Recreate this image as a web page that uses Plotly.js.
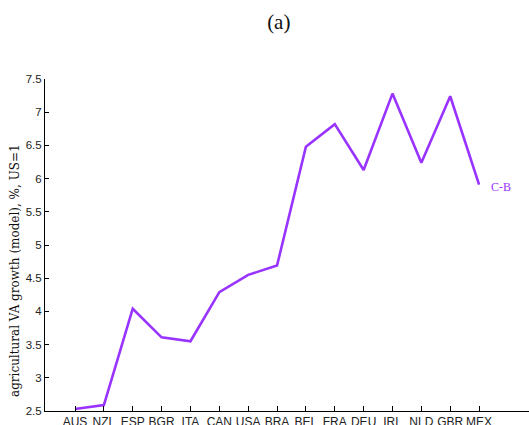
<!DOCTYPE html>
<html>
<head>
<meta charset="utf-8">
<script src="https://cdn.plot.ly/plotly-3.0.1.min.js"></script>
<style>html,body{margin:0;padding:0;background:#fff;}#chart{width:529px;height:425px;}</style>
</head>
<body>
<div id="chart"></div>
<script>
const countries = ["AUS","NZL","ESP","BGR","ITA","CAN","USA","BRA","BEL","FRA","DEU","IRL","NLD","GBR","MEX"];
const growthCB = [2.53, 2.59, 4.04, 3.61, 3.55, 4.29, 4.55, 4.69, 6.48, 6.82, 6.13, 7.28, 6.24, 7.24, 5.91];
const yTicks = [2.5, 3, 3.5, 4, 4.5, 5, 5.5, 6, 6.5, 7, 7.5];
const yTickText = ["2.5","3","3.5","4","4.5","5","5.5","6","6.5","7","7.5"];
const seriesName = "C-B";
const yTitle = "agricultural VA growth (model), %, US=1";
const lineColor = "#9933ff";

const idx = countries.map((c, i) => i);

Plotly.newPlot("chart", [{
  x: idx,
  y: growthCB,
  type: "scatter",
  mode: "lines",
  line: {color: lineColor, width: 2.6},
  hoverinfo: "skip",
  showlegend: false
}], {
  width: 529, height: 425,
  margin: {l: 45, r: 0, t: 79, b: 14, pad: 0},
  paper_bgcolor: "#fff", plot_bgcolor: "#fff",
  title: {text: "(a)", font: {family: "Liberation Serif, serif", size: 21, color: "#111"},
          x: 0.527, xanchor: "center", y: 1 - 22/425, yanchor: "middle", yref: "container"},
  xaxis: {
    range: [-1.04, 15.73], tickmode: "array", tickvals: idx, ticktext: countries,
    showgrid: false, zeroline: false, showline: true, linecolor: "#000", linewidth: 1,
    ticks: "inside", ticklen: 5, tickcolor: "#000", tickwidth: 1,
    tickfont: {family: "Liberation Sans, Arial, sans-serif", size: 12, color: "#222"}
  },
  yaxis: {
    range: [2.5, 7.5], tickmode: "array", tickvals: yTicks, ticktext: yTickText,
    showgrid: false, zeroline: false, showline: true, linecolor: "#000", linewidth: 1,
    ticks: "inside", ticklen: 4, tickcolor: "#000", tickwidth: 1,
    tickfont: {family: "Liberation Sans, Arial, sans-serif", size: 11.5, color: "#222"}
  },
  annotations: [{
    x: 14.35, y: 5.88, xref: "x", yref: "y", text: seriesName, showarrow: false,
    xanchor: "left", yanchor: "middle",
    font: {family: "Liberation Serif, serif", size: 12, color: lineColor}
  }, {
    x: (15 - 45) / 484, y: (411 - 271) / 332, xref: "paper", yref: "paper",
    text: yTitle, showarrow: false, textangle: -90,
    xanchor: "center", yanchor: "middle",
    font: {family: "DejaVu Serif, serif", size: 12, color: "#111"}
  }]
}, {staticPlot: true, displayModeBar: false});
</script>
</body>
</html>
